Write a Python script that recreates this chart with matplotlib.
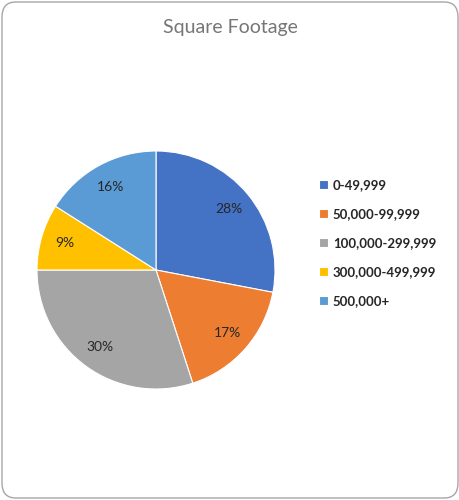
import matplotlib.pyplot as plt
from matplotlib.patches import FancyBboxPatch

# slice values (percent) and legend labels
categories = ["0-49,999", "50,000-99,999", "100,000-299,999", "300,000-499,999", "500,000+"]
shares = [28, 17, 30, 9, 16]
colors = ["#4472C4", "#ED7D31", "#A5A5A5", "#FFC000", "#5B9BD5"]

plt.rcParams['font.family'] = ['Lato', 'DejaVu Sans']

fig = plt.figure(figsize=(4.6, 5.0), dpi=100)

# rounded chart border
border = FancyBboxPatch((2 / 460, 2 / 500), 456 / 460, 496 / 500,
                        boxstyle="round,pad=0,rounding_size=0.03",
                        transform=fig.transFigure, facecolor="white",
                        edgecolor="#A6A6A6", linewidth=1.0, zorder=-1)
fig.patches.append(border)

fig.text(230 / 460, 1 - 27 / 500, "Square Footage", ha="center", va="center",
         fontsize=14, color="#767676")

# pie centred at (156, 270) px with radius ~119 px
ax = fig.add_axes([(156 - 119) / 460, (500 - 389) / 500, 238 / 460, 238 / 500])
wedges, texts, autotexts = ax.pie(shares, colors=colors, startangle=90, counterclock=False,
                                  autopct="%d%%", pctdistance=0.8,
                                  wedgeprops=dict(edgecolor="white", linewidth=0.8),
                                  textprops=dict(fontsize=10, color="#262626"))
ax.set_xlim(-1, 1)
ax.set_ylim(-1, 1)
ax.set_aspect("equal")
ax.axis("off")

leg = fig.legend(wedges, categories, loc="upper left",
                 bbox_to_anchor=(307 / 460, 1 - 167 / 500), frameon=False,
                 handlelength=0.7, handleheight=0.7, handletextpad=0.35,
                 labelspacing=1.3, prop=dict(size=9.5, weight="bold"))
for t in leg.get_texts():
    t.set_color("#262626")

fig.savefig("out.png", dpi=100)
